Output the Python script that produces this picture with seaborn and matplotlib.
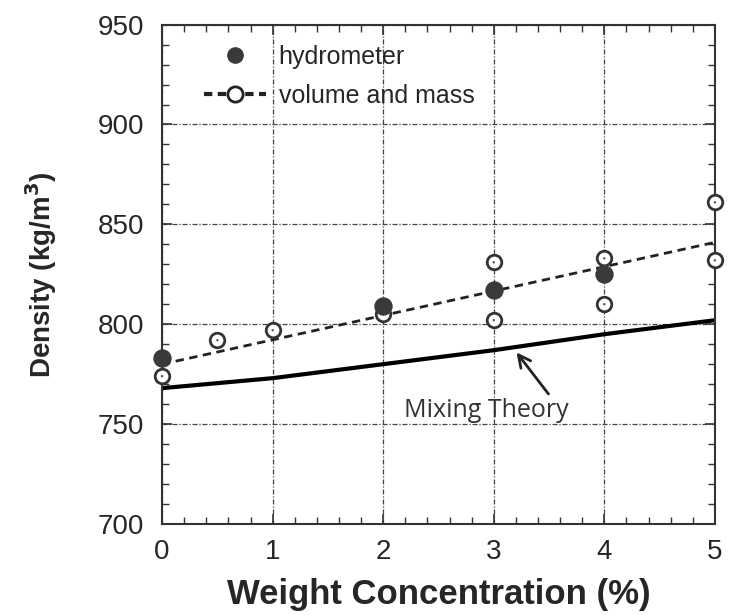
import numpy as np
import pandas as pd
import matplotlib
matplotlib.use("Agg")
import matplotlib.pyplot as plt
from matplotlib.ticker import MultipleLocator
from matplotlib.lines import Line2D
import seaborn as sns

# hydrometer measurements (filled circles)
hydro_conc = [0, 2, 3, 4]
hydro_density = [783, 809, 817, 825]

# volume and mass measurements (open circles)
vm_conc = [0, 0.5, 1, 2, 3, 3, 4, 4, 5, 5]
vm_density = [774, 792, 797, 805, 831, 802, 833, 810, 861, 832]

# linear fit through volume and mass data (dashed)
fit_conc = [0, 5]
fit_density = [780, 841]

# mixing theory curve (solid)
mix_conc = [0, 1, 2, 3, 4, 5]
mix_density = [768, 773, 780, 787, 795, 802]

sns.set_theme(style="ticks")
plt.rcParams['font.family'] = ['Liberation Sans', 'DejaVu Sans']

fig = plt.figure(figsize=(7.47, 6.15), dpi=100)
ax = fig.add_axes([0.217, 0.148, 0.74, 0.812])

sns.lineplot(x=mix_conc, y=mix_density, ax=ax, color="black", linewidth=3)
sns.lineplot(x=fit_conc, y=fit_density, ax=ax, color="#222222", linewidth=2,
             linestyle=(0, (3, 2)))
sns.scatterplot(x=vm_conc, y=vm_density, ax=ax, s=110, facecolor="white",
                edgecolor="#333333", linewidth=2, zorder=4, clip_on=False)
sns.scatterplot(x=vm_conc, y=vm_density, ax=ax, s=3, color="#555555",
                edgecolor="none", zorder=4.5, clip_on=False)
sns.scatterplot(x=hydro_conc, y=hydro_density, ax=ax, s=150, color="#3a3a3a",
                edgecolor="#3a3a3a", zorder=5, clip_on=False)

ax.set_xlim(0, 5)
ax.set_ylim(700, 950)
ax.xaxis.set_major_locator(MultipleLocator(1))
ax.xaxis.set_minor_locator(MultipleLocator(0.2))
ax.yaxis.set_major_locator(MultipleLocator(50))
ax.yaxis.set_minor_locator(MultipleLocator(10))
ax.tick_params(which="both", direction="in", top=True, right=True, color="#333333")
ax.tick_params(which="major", length=7, width=1.2, labelsize=20)
ax.tick_params(axis="y", which="major", pad=13)
ax.tick_params(axis="x", which="major", pad=11)
ax.tick_params(which="minor", length=5, width=1.0)
ax.grid(True, which="major", color="#444444", linestyle=(0, (4, 1.5, 1, 1.5)), linewidth=0.9)
for sp in ax.spines.values():
    sp.set_color("#333333")
    sp.set_linewidth(1.5)

ax.set_xlabel("Weight Concentration (%)", fontsize=25, fontweight="bold", labelpad=9)
ax.set_ylabel("Density (kg/m$^\\mathbf{3}$)", fontsize=20, fontweight="bold", labelpad=28)

handles = [
    Line2D([], [], marker="o", color="#3a3a3a", linestyle="none", markersize=11),
    Line2D([], [], marker="o", color="#222222", markerfacecolor="white",
           markeredgewidth=2, markersize=11, linestyle=(0, (2, 1.3)), linewidth=3),
]
ax.legend(handles, ["hydrometer", "volume and mass"], loc="upper left",
          frameon=False, fontsize=18, handlelength=2.5, handletextpad=0.5,
          borderaxespad=0, borderpad=0, bbox_to_anchor=(0.075, 0.96),
          labelspacing=0.6)

ax.annotate("", xy=(3.19, 787), xytext=(3.51, 764),
            arrowprops=dict(arrowstyle="->", color="#222222", lw=2,
                            mutation_scale=22))
ax.text(2.93, 757, "Mixing Theory", ha="center", va="center", fontsize=18,
        color="#333333", family=["Open Sans", "DejaVu Sans"])

fig.savefig("out.png", dpi=100)
